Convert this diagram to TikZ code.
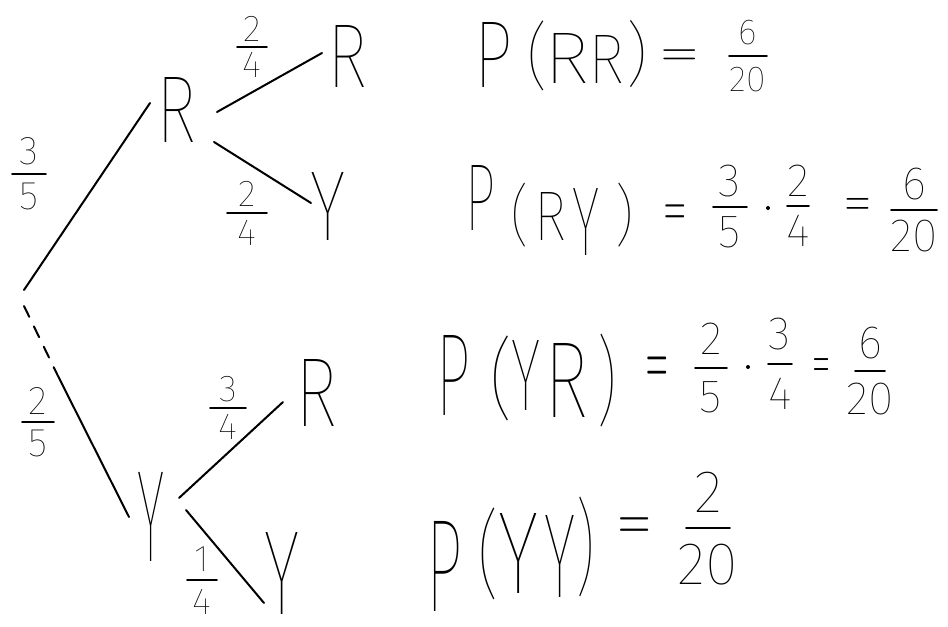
\documentclass[tikz,border=0pt]{standalone}
\usepackage{graphicx}
\usepackage{fontspec}
\setmainfont{Fira Sans}[UprightFont={* Thin}]
\newfontfamily\lmfont{Latin Modern Roman}
\newlength\pxu
\setlength\pxu{0.75pt}
\newcommand\G[3]{\resizebox*{#1\pxu}{#2\pxu}{#3}}
\newcommand\EQ[2]{\scalebox{#1}[#2]{\lmfont =}}
% fraction: name, x, y, numerator, denominator, style, half bar width, gap
\newcommand\TF[8]{%
  \node[#6,anchor=south] (#1n) at (#2,#3-#8) {#4};
  \node[#6,anchor=north] (#1d) at (#2,#3+#8) {#5};
  \draw[bar] (#2-#7,#3) -- (#2+#7,#3);}
\begin{document}
\begin{tikzpicture}[x=0.75pt,y=-0.75pt,line cap=round,line join=round,
  g/.style={inner sep=0pt,outer sep=0pt},
  branch/.style={line width=1.5pt},
  dashbranch/.style={branch,dash pattern=on 9pt off 8pt},
  tl/.style={g,font=\fontsize{28}{28}\selectfont},
  tlb/.style={g,font=\fontsize{30}{30}\selectfont},
  e1/.style={g,font=\fontsize{27}{27}\selectfont},
  e2/.style={g,font=\fontsize{35}{35}\selectfont},
  e4/.style={g,font=\fontsize{45}{45}\selectfont},
  eqs/.style={g,anchor=north,font=\fontsize{40}{40}\selectfont},
  bar/.style={line width=1.4pt},
  mdot/.style={circle,fill,inner sep=0pt,minimum size=3pt}]
\path[use as bounding box,fill=white] (0,0) rectangle (948,627);

% ---------- tree ----------
\coordinate (root) at (24,290);
\coordinate (rootB) at (24,306);
\coordinate (dashEnd) at (57,374);
\node[g] (R1) at (177,110) {\G{40}{65}{R}};
\node[g] (Y1) at (151,517) {\G{27}{89}{Y}};
\node[g] (RR) at (347,56) {\G{40}{62}{R}};
\node[g] (RY) at (328,206) {\G{35}{68}{Y}};
\node[g] (YR) at (316,393) {\G{42}{67}{R}};
\node[g] (YY) at (282,573) {\G{35}{82}{Y}};

\coordinate (R1in) at (150,103);
\coordinate (Y1in) at (129,517);
\coordinate (R1a) at (217,112);  \coordinate (RRin) at (322,53);
\coordinate (R1b) at (214,142);  \coordinate (RYin) at (311,203);
\coordinate (Y1a) at (179,498);  \coordinate (YRin) at (283,402);
\coordinate (Y1b) at (186,510);  \coordinate (YYin) at (264,603);

\draw[branch] (root) -- (R1in);
\draw[dashbranch] (rootB) -- (dashEnd);
\draw[branch] (dashEnd) -- (Y1in);
\draw[branch] (R1a) -- (RRin);
\draw[branch] (R1b) -- (RYin);
\draw[branch] (Y1a) -- (YRin);
\draw[branch] (Y1b) -- (YYin);

\TF{l35}{29}{174}{3}{5}{tlb}{17}{9}
\TF{l25}{38}{422}{2}{5}{tlb}{16}{8}
\TF{l24a}{252}{47}{2}{4}{tl}{15}{5}
\TF{l24b}{247}{213}{2}{4}{tl}{20}{7}
\TF{l34}{228}{408}{3}{4}{tl}{18}{6}
\TF{l14}{202}{580}{1}{4}{tl}{15}{9}

% ---------- P(RR) ----------
\node[g] (aP) at (493,55) {\G{38}{65}{P}};
\node[g] (aL) at (537,56) {\G{22}{70}{(}};
\node[g] (aR1) at (567,58) {\G{45}{50}{R}};
\node[g] (aR2) at (606,59) {\G{36}{48}{R}};
\node[g] (aRp) at (637,54) {\G{23}{67}{)}};
\node[eqs] (aEq) at (680,50) {\EQ{0.95}{0.88}};
\TF{af}{748}{56}{6}{20}{e1}{19}{11}

% ---------- P(RY) ----------
\node[g] (bP) at (480,198) {\G{30}{65}{P}};
\node[g] (bL) at (520,215) {\G{19}{64}{(}};
\node[g] (bR) at (550,216) {\G{32}{48}{R}};
\node[g] (bY) at (586,222) {\G{27}{67}{Y}};
\node[g] (bRp) at (624,215) {\G{20}{64}{)}};
\node[eqs] (bEq) at (675,205) {\EQ{0.56}{1.14}};
\TF{bf1}{730}{207}{3}{5}{e2}{17}{10}
\node[mdot] (bDot) at (768,208) {};
\TF{bf2}{798}{206}{2}{4}{e2}{11}{9}
\node[eqs] (bEq2) at (858,198) {\EQ{0.65}{0.95}};
\TF{bf3}{914}{210}{6}{20}{e2}{23}{10}

% ---------- P(YR) ----------
\node[g] (cP) at (453,375) {\G{34}{80}{P}};
\node[g] (cL) at (501,378) {\G{24}{85}{(}};
\node[g] (cY) at (526,375) {\G{29}{70}{Y}};
\node[g] (cR) at (566,380) {\G{44}{74}{R}};
\node[g] (cRp) at (607,381) {\G{21}{93}{)}};
\node[eqs] (cEq) at (657,357) {\EQ{0.56}{1.5}};
\TF{cf1}{711}{368}{2}{5}{e2}{16}{14}
\node[mdot] (cDot) at (748,367) {};
\TF{cf2}{780}{364}{3}{4}{e2}{12}{14}
\node[eqs] (cEq2) at (822,359) {\EQ{0.42}{1.05}};
\TF{cf3}{870}{371}{6}{20}{e2}{15}{12}

% ---------- P(YY) ----------
\node[g] (dP) at (444,566) {\G{36}{90}{P}};
\node[g] (dL) at (488,554) {\G{22}{92}{(}};
\node[g] (dY1) at (518,553) {\G{40}{80}{Y}};
\node[g] (dY2) at (560,556) {\G{31}{82}{Y}};
\node[g] (dRp) at (585,547) {\G{20}{100}{)}};
\node[eqs] (dEq) at (635,518) {\EQ{0.84}{1.2}};
\TF{df}{708}{528}{2}{20}{e4}{22}{16}
\end{tikzpicture}
\end{document}
